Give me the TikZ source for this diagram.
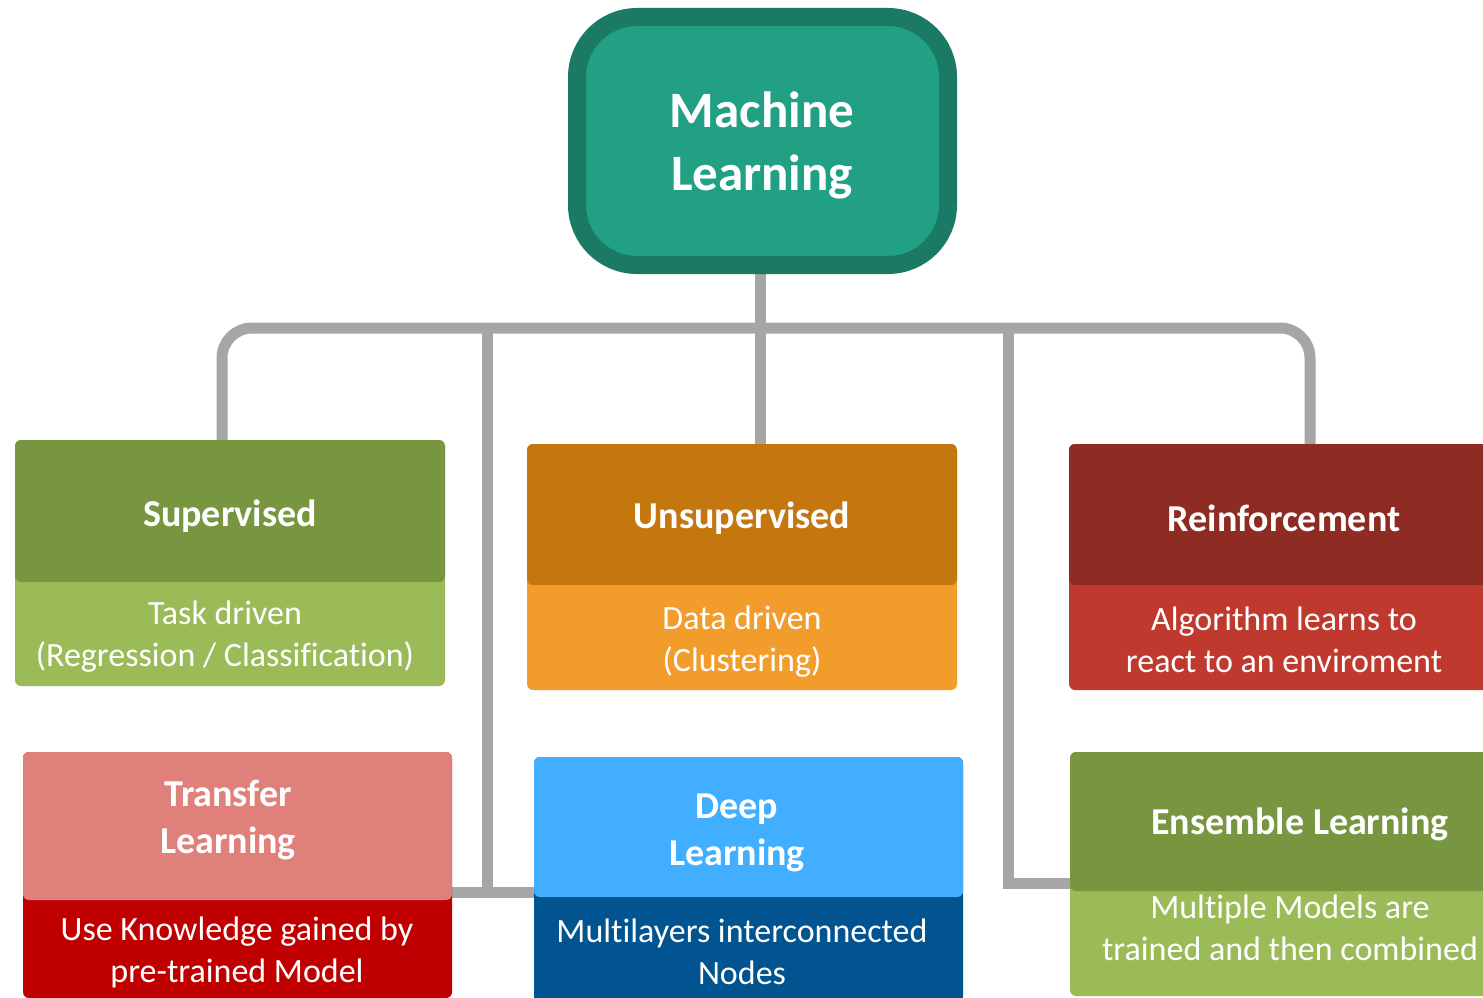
\documentclass[tikz,border=0pt]{standalone}
\usepackage{fontspec}
\setmainfont{Carlito}[Ligatures=NoCommon]
\usetikzlibrary{shadows,backgrounds}
\definecolor{mlfill}{HTML}{21A084}
\definecolor{mlborder}{HTML}{1A7A63}
\definecolor{conngray}{HTML}{A6A6A6}
\definecolor{grnH}{HTML}{77963F}
\definecolor{grnB}{HTML}{9BBB59}
\definecolor{orgH}{HTML}{C5770F}
\definecolor{orgB}{HTML}{F29C2C}
\definecolor{redH}{HTML}{8E2B23}
\definecolor{redB}{HTML}{C0392F}
\definecolor{pnkH}{HTML}{DF817A}
\definecolor{pnkB}{HTML}{C00000}
\definecolor{bluH}{HTML}{42AEFF}
\definecolor{bluB}{HTML}{01548F}
\begin{document}
\begin{tikzpicture}[x=1pt,y=-1pt,
  conn/.style={draw=conngray, line width=11pt},
  card/.style 2 args={rounded corners=6pt, inner sep=0pt, fill=#2,
    path picture={\fill[#1] (path picture bounding box.north west) rectangle ([yshift=-\hdr]path picture bounding box.north east);}},
  ttl/.style={text=white, font=\fontsize{38}{47}\selectfont\bfseries, align=center, inner sep=0pt},
  sub/.style={text=white, font=\fontsize{34}{42}\selectfont, align=center, inner sep=0pt},
  mlbox/.style={draw=mlborder, fill=mlfill, line width=18pt, rounded corners=60pt,
    minimum width=371pt, minimum height=248pt, inner sep=0pt,
    drop shadow={shadow xshift=4pt, shadow yshift=-4pt, opacity=0.35, fill=black!60}}
]
\useasboundingbox (0,0) rectangle (1483,998);
\clip (0,0) rectangle (1483,998);

% top node
\node[mlbox] (ml) at (762.5,141) {};
\node[text=white, font=\fontsize{51}{63}\selectfont\bfseries, align=center, inner sep=0pt] (mlt) at (762,145) {Machine\\Learning};

% cards
\def\hdr{142pt}
\node[card={grnH}{grnB}, minimum width=430pt, minimum height=246pt] (sup) at (230,563) {};
\def\hdr{141pt}
\node[card={orgH}{orgB}, minimum width=430pt, minimum height=246pt] (uns) at (742,567) {};
\node[card={redH}{redB}, minimum width=430pt, minimum height=246pt] (rei) at (1284,567) {};
\def\hdr{148pt}
\node[card={pnkH}{pnkB}, minimum width=429pt, minimum height=246pt] (tra) at (237.5,875) {};
\def\hdr{140pt}
\node[card={bluH}{bluB}, minimum width=429pt, minimum height=246pt] (deep) at (748.5,880) {};
\def\hdr{139pt}
\node[card={grnH}{grnB}, minimum width=460pt, minimum height=244pt] (ens) at (1300,874) {};

% texts
\node[ttl] (supt) at (230,516) {Supervised};
\node[sub] (sups) at (225,637) {Task driven\\(Regression / Classification)};
\node[ttl] (unst) at (742,518) {Unsupervised};
\node[sub] (unss) at (742,642) {Data driven\\(Clustering)};
\node[ttl] (reit) at (1284,518) {Reinforcement};
\node[sub] (reis) at (1284,640) {Algorithm learns to\\react to an enviroment};
\node[ttl] (trat) at (228,820) {Transfer\\Learning};
\node[sub] (tras) at (237,952) {Use Knowledge gained by\\pre-trained Model};
\node[ttl] (deept) at (737,833) {Deep\\Learning};
\node[sub] (deeps) at (742,952) {Multilayers interconnected\\Nodes};
\node[ttl] (enst) at (1300,824) {Ensemble Learning};
\node[sub] (enss) at (1290,928) {Multiple Models are\\trained and then combined};

% connectors
\coordinate (bus) at (760,328);
\coordinate (jl) at (487,328);
\coordinate (jlb) at (487,892);
\coordinate (jr) at (1008,328);
\coordinate (jrb) at (1008,883);
\begin{scope}[on background layer]
\draw[conn, rounded corners=30pt] ([xshift=-8pt]sup.north) |- (bus) -| ([xshift=26pt]rei.north);
\draw[conn] (bus |- ml.south) -- (bus) -- (bus |- uns.north);
\draw[conn] (jl) -- (jlb);
\draw[conn] (tra.east |- jlb) -- (deep.west |- jlb);
\draw[conn] (jr) |- (ens.west |- jrb);
\end{scope}
\end{tikzpicture}
\end{document}
